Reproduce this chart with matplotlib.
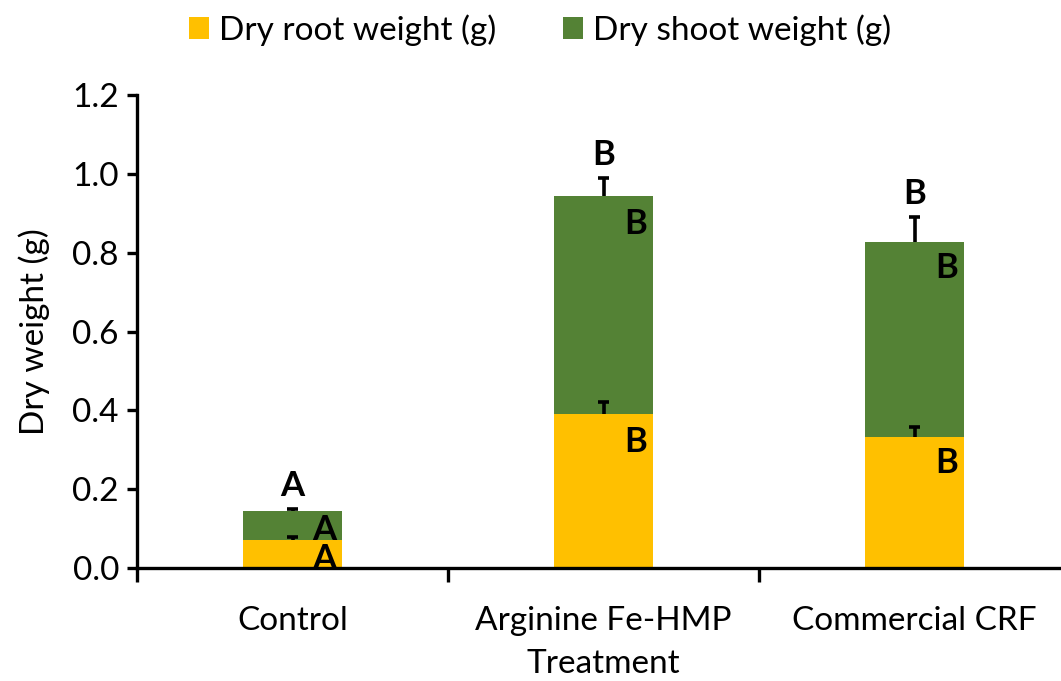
import matplotlib
matplotlib.use("Agg")
import matplotlib.pyplot as plt
from matplotlib.patches import Patch
import numpy as np

categories = ["Control", "Arginine Fe-HMP", "Commercial CRF"]
root_weight = [0.071, 0.391, 0.332]
shoot_weight = [0.074, 0.553, 0.495]
root_err = [0.008, 0.030, 0.026]
shoot_err = [0.004, 0.045, 0.063]
root_letters = ["A", "B", "B"]
shoot_letters = ["A", "B", "B"]
total_letters = ["A", "B", "B"]
y_ticks = [0.0, 0.2, 0.4, 0.6, 0.8, 1.0, 1.2]

YELLOW = "#FFC000"
GREEN = "#548235"
FONT = "Lato"
FS = 24

plt.rcParams["font.family"] = [FONT, "DejaVu Sans"]

fig = plt.figure(figsize=(10.61, 6.81), dpi=100)
ax = fig.add_axes([137 / 1061, 113 / 681, (1070 - 137) / 1061, 473 / 681])

x = np.arange(len(categories))
width = 0.32
root = np.array(root_weight)
shoot = np.array(shoot_weight)
total = root + shoot

ax.bar(x, root, width, color=YELLOW, zorder=2)
ax.bar(x, shoot, width, bottom=root, color=GREEN, zorder=2)

# plus-direction error bars with cap only at the top
cap_half = 0.017
for base, err in ((root, np.array(root_err)), (total, np.array(shoot_err))):
    ax.vlines(x, base, base + err, colors="black", linewidth=2.6, zorder=3)
    ax.hlines(base + err, x - cap_half, x + cap_half, colors="black", linewidth=2.6, zorder=3)

# letters
lab_kw = dict(fontsize=25, fontweight="bold", color="black", zorder=4)
seg_dy = [-2, -9, -7]  # points below segment top for inside labels
for i in range(len(categories)):
    ax.annotate(root_letters[i], (x[i], root[i]), xytext=(23, seg_dy[i]),
                textcoords="offset points", ha="center", va="top", **lab_kw)
    ax.annotate(shoot_letters[i], (x[i], total[i]), xytext=(23, seg_dy[i]),
                textcoords="offset points", ha="center", va="top", **lab_kw)
    ax.annotate(total_letters[i], (x[i], total[i] + shoot_err[i]), xytext=(0, 5),
                textcoords="offset points", ha="center", va="bottom", **lab_kw)

ax.set_xlim(-0.5, 2.5)
ax.set_ylim(0, 1.2)
ax.set_yticks(y_ticks)
ax.set_yticklabels([f"{v:.1f}" for v in y_ticks], fontsize=FS)
ax.set_xticks(x)
ax.set_xticklabels(categories, fontsize=FS)
ax.set_xticks([-0.5, 0.5, 1.5], minor=True)
ax.tick_params(axis="x", which="major", length=0, pad=27)
ax.tick_params(axis="x", which="minor", length=10, width=2.4, direction="out")
ax.tick_params(axis="y", which="major", length=7, width=2.4, direction="out", pad=6)

for s in ["top", "right"]:
    ax.spines[s].set_visible(False)
for s in ["left", "bottom"]:
    ax.spines[s].set_linewidth(2.4)
    ax.spines[s].set_color("black")

ax.set_ylabel("Dry weight (g)", fontsize=FS, labelpad=16)
ax.set_xlabel("Treatment", fontsize=FS, labelpad=10)

handles = [Patch(facecolor=YELLOW, label="Dry root weight (g)"),
           Patch(facecolor=GREEN, label="Dry shoot weight (g)")]
fig.legend(handles=handles, loc="center", bbox_to_anchor=(540 / 1061, 1 - 30 / 681),
           ncol=2, frameon=False, fontsize=FS, handlelength=0.6, handleheight=0.6,
           handletextpad=0.3, columnspacing=2.0)

fig.savefig("out.png", dpi=100)
